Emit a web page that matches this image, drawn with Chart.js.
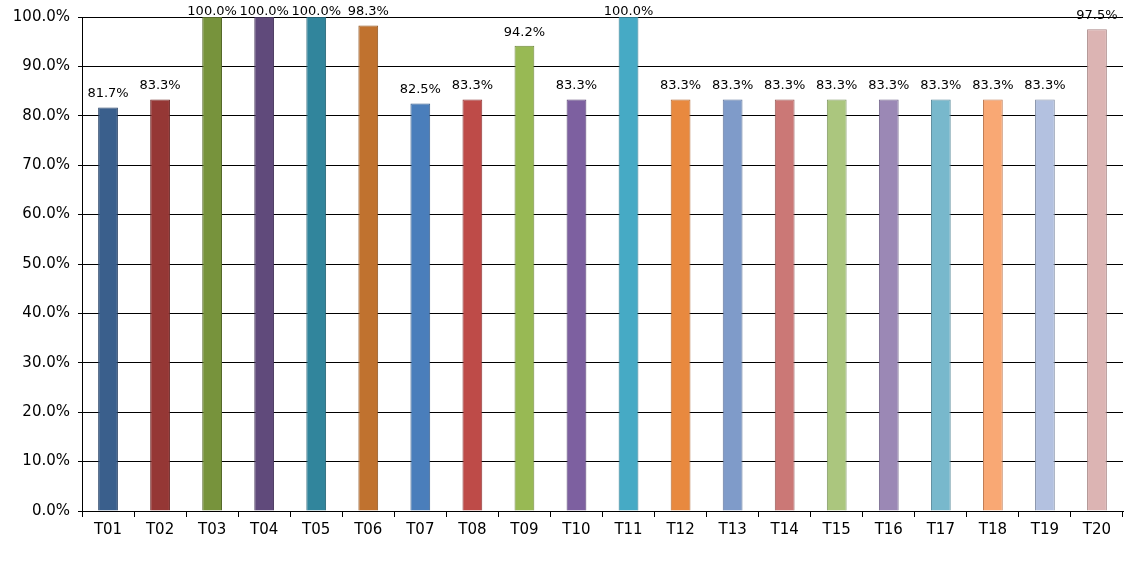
<!DOCTYPE html>
<html>
<head>
<meta charset="utf-8">
<script src="https://cdn.jsdelivr.net/npm/chart.js@4"></script>
<style>
  html, body { margin: 0; padding: 0; background: #fff; }
  #wrap { width: 1139px; height: 562px; }
</style>
</head>
<body>
<div id="wrap"><canvas id="grafico"></canvas></div>
<script>
// categorias e valores
const categorias = ['T01','T02','T03','T04','T05','T06','T07','T08','T09','T10',
                    'T11','T12','T13','T14','T15','T16','T17','T18','T19','T20'];
const valores = [81.7, 83.3, 100.0, 100.0, 100.0, 98.3, 82.5, 83.3, 94.2, 83.3,
                 100.0, 83.3, 83.3, 83.3, 83.3, 83.3, 83.3, 83.3, 83.3, 97.5];
const cores = ['#3A5F8C','#953735','#77933C','#604A7B','#31859C','#C0722F','#4A7EBB','#BE4B48','#98B954','#7D60A0',
               '#46AAC5','#E8893F','#7F9BC9','#CB7876','#ABC67E','#9B88B5','#78B8CC','#F9A874','#B3C1E0','#DCB4B3'];
const bordas = ['#2A4468','#6E2826','#56692B','#45355A','#236173','#8E5422','#365C8A','#8C3634','#6F883C','#5B4575',
                '#337C90','#AE6530','#5E739A','#975856','#7E9460','#72648A','#58899A','#C07D56','#8591A8','#A88685'];

// plugin simples para escrever os valores em cima das barras
// (o rótulo não sobe acima do topo da área do gráfico, como no Excel)
const rotulos = {
    id: 'rotulos',
    afterDatasetsDraw(chart) {
        const ctx = chart.ctx;
        const meta = chart.getDatasetMeta(0);
        const topo = chart.chartArea.top;
        ctx.save();
        ctx.font = '13px "DejaVu Sans"';
        ctx.fillStyle = '#000';
        ctx.textAlign = 'center';
        ctx.textBaseline = 'bottom';
        meta.data.forEach((bar, i) => {
            const y = Math.max(bar.y - 7, topo + 1);
            ctx.fillText(valores[i].toFixed(1) + '%', bar.x, y);
        });
        ctx.restore();
    }
};

new Chart(document.getElementById('grafico'), {
    type: 'bar',
    data: {
        labels: categorias,
        datasets: [{
            data: valores,
            backgroundColor: cores,
            borderColor: bordas,
            borderWidth: 1,
            barPercentage: 0.76,
            categoryPercentage: 0.5
        }]
    },
    options: {
        responsive: true,
        maintainAspectRatio: false,
        animation: false,
        layout: { padding: { top: 17, right: 16, left: 0, bottom: 0 } },
        plugins: { legend: { display: false }, tooltip: { enabled: false } },
        scales: {
            x: {
                grid: { offset: true, drawOnChartArea: false, color: '#000', tickLength: 6 },
                border: { color: '#000' },
                ticks: { color: '#000', font: { family: '"DejaVu Sans"', size: 15 }, padding: 4 },
                afterFit(scale) { scale.height = 51; }
            },
            y: {
                min: 0,
                max: 100,
                ticks: {
                    stepSize: 10,
                    color: '#000',
                    font: { family: '"DejaVu Sans"', size: 15 },
                    padding: 8,
                    callback: v => v.toFixed(1) + '%'
                },
                grid: { color: '#000', lineWidth: 1, tickLength: 4 },
                border: { color: '#000' },
                afterFit(scale) { scale.width = 82; }
            }
        }
    },
    plugins: [rotulos]
});
</script>
</body>
</html>
